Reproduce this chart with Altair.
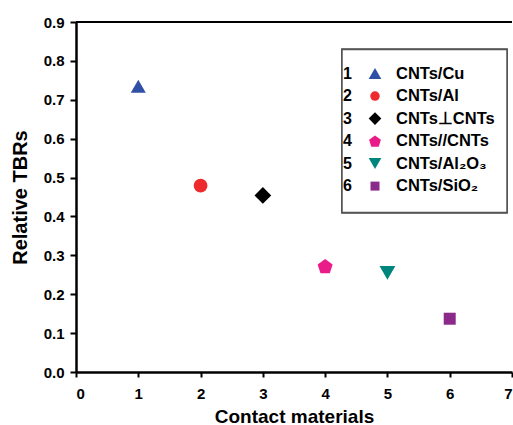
import altair as alt
import pandas as pd

# ---- data ----
numbers = [1, 2, 3, 4, 5, 6]
labels = ["CNTs/Cu", "CNTs/Al", "CNTs\u22a5CNTs", "CNTs//CNTs",
          "CNTs/Al\u2082O\u2083", "\u2002CNTs/SiO\u2082"]
relative_tbr = [0.735, 0.479, 0.454, 0.272, 0.255, 0.137]

# ---- styles ----
PENTAGON = "M0,-0.905L0.951,-0.214L0.588,0.905L-0.588,0.905L-0.951,-0.214Z"
shapes = ["triangle-up", "circle", "diamond", PENTAGON, "triangle-down", "square"]
colors = ["#3050A6", "#EE2A2C", "#000000", "#EA1C8A", "#00857D", "#8C2A8C"]
sizes_main = [225, 190, 280, 249, 250, 144]
sizes_leg = [160, 90, 160, 155, 160, 81]

FONT = "Liberation Sans"
W, H = 436, 350

df = pd.DataFrame({
    "num": numbers, "label": labels, "tbr": relative_tbr,
    "shape": shapes, "color": colors,
    "size_main": sizes_main, "size_leg": sizes_leg,
})

base = alt.Chart(df)

points = base.mark_point(filled=True, opacity=1, strokeWidth=0).encode(
    x=alt.X("num:Q", title="Contact materials",
            scale=alt.Scale(domain=[0, 7], nice=False),
            axis=alt.Axis(values=[0, 1, 2, 3, 4, 5, 6, 7], format="d",
                          tickSize=5, labelPadding=9, titlePadding=6,
                          titleFontSize=19)),
    y=alt.Y("tbr:Q", title="Relative TBRs",
            scale=alt.Scale(domain=[0, 0.9], nice=False),
            axis=alt.Axis(values=[0.0, 0.1, 0.2, 0.3, 0.4, 0.5, 0.6, 0.7, 0.8, 0.9],
                          format=".1f", tickSize=6, labelPadding=6, titlePadding=13,
                          titleFontSize=20)),
    shape=alt.Shape("shape:N", scale=None),
    color=alt.Color("color:N", scale=None),
    size=alt.Size("size_main:Q", scale=None),
)

top_border = alt.Chart(df).mark_rule(color="black", strokeWidth=2).encode(
    x=alt.value(0), x2=alt.value(W), y=alt.value(0)
)

leg_y = alt.Y("num:Q", scale=alt.Scale(domain=[1, 6], range=[51.6, 164.1]), axis=None)

leg_box = alt.Chart(df).mark_rect(fill="white", stroke="#555555", strokeWidth=1.5).encode(
    x=alt.value(266), x2=alt.value(431), y=alt.value(27.5), y2=alt.value(190.5)
)

leg_nums = base.mark_text(align="left", baseline="middle", font=FONT,
                          fontSize=16, fontWeight="bold", color="black").encode(
    x=alt.value(267), y=leg_y, text=alt.Text("num:N")
)

leg_syms = base.mark_point(filled=True, opacity=1, strokeWidth=0).encode(
    x=alt.value(299), y=leg_y,
    shape=alt.Shape("shape:N", scale=None),
    color=alt.Color("color:N", scale=None),
    size=alt.Size("size_leg:Q", scale=None),
)

leg_labels = base.mark_text(align="left", baseline="middle", font=FONT,
                            fontSize=16.5, fontWeight="bold", color="black").encode(
    x=alt.value(320), y=leg_y, text=alt.Text("label:N")
)

chart = alt.layer(
    points, top_border, leg_box, leg_nums, leg_syms, leg_labels
).resolve_scale(
    y="independent"
).properties(
    width=W, height=H,
    autosize=alt.AutoSizeParams(type="none"),
    padding={"left": 76, "top": 22, "right": 1, "bottom": 53},
).configure_view(
    stroke=None
).configure_axis(
    grid=False,
    domainColor="black", domainWidth=2.5,
    tickColor="black", tickWidth=2,
    labelFont=FONT, labelFontSize=15, labelFontWeight="bold", labelColor="black",
    titleFont=FONT, titleFontSize=18, titleFontWeight="bold", titleColor="black",
    labelOverlap=False,
)

chart.save("out.html", embed_options={"renderer": "svg", "actions": False})
